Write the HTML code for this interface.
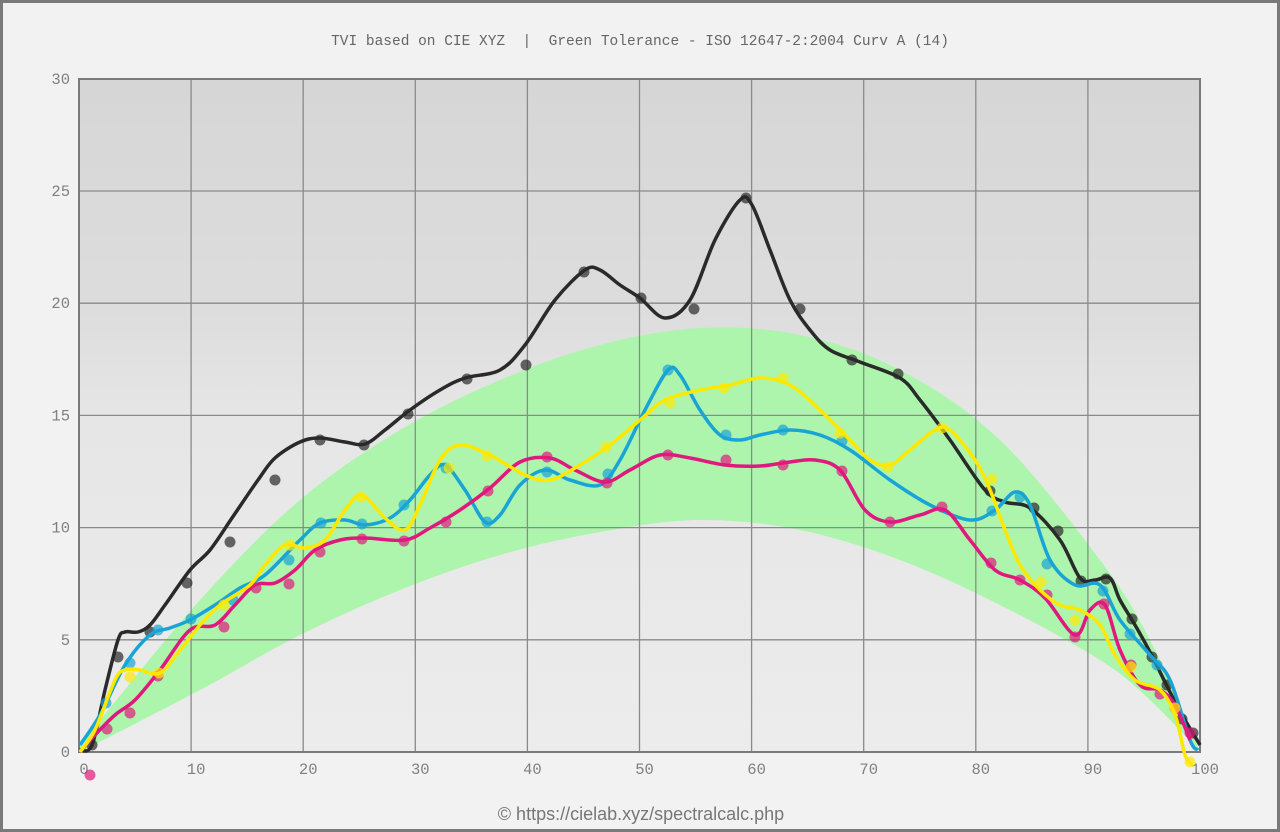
<!DOCTYPE html>
<html><head><meta charset="utf-8"><style>
html,body{margin:0;padding:0;background:#f2f2f2}
#w{position:relative;width:1274px;height:826px;border:3px solid #7a7a7a;background:#f2f2f2;overflow:hidden}
svg{position:absolute;left:-3px;top:-3px}
</style></head><body><div id="w">
<svg id="s" width="1280" height="832" xmlns="http://www.w3.org/2000/svg">
<defs><linearGradient id="bg" x1="0" y1="0" x2="0" y2="1">
<stop offset="0" stop-color="#d6d6d6"/><stop offset="0.35" stop-color="#dddddd"/><stop offset="0.5" stop-color="#e6e6e6"/><stop offset="1" stop-color="#ececec"/></linearGradient></defs>
<rect x="79" y="79" width="1121" height="673" fill="url(#bg)"/>
<path id="band" fill="#adf5ad"/>
<g id="grid" stroke="#8a8a8a" stroke-width="1.3"></g>
<rect x="79" y="79" width="1121" height="673" fill="none" stroke="#7a7a7a" stroke-width="2"/>
<g id="lbl" font-family="Liberation Mono, monospace" font-size="15.5" fill="#808080"></g>
<g id="series"></g>
<text x="640" y="45" text-anchor="middle" xml:space="preserve" style="white-space:pre" font-family="Liberation Mono, monospace" font-size="14.5" fill="#666">TVI based on CIE XYZ  |  Green Tolerance - ISO 12647-2:2004 Curv A (14)</text>
<text x="641" y="820" text-anchor="middle" font-family="Liberation Sans, sans-serif" font-size="18" fill="#777">© https://cielab.xyz/spectralcalc.php</text>
</svg></div>
<script>
const NS="http://www.w3.org/2000/svg";
function el(t,a,p){const e=document.createElementNS(NS,t);for(const k in a)e.setAttribute(k,a[k]);p.appendChild(e);return e}
function cr(p){let d="M"+p[0][0]+","+p[0][1];for(let i=0;i<p.length-1;i++){const a=p[Math.max(0,i-1)],b=p[i],c=p[i+1],e=p[Math.min(p.length-1,i+2)];
d+=" C"+(b[0]+(c[0]-a[0])/6).toFixed(1)+","+(b[1]+(c[1]-a[1])/6).toFixed(1)+" "+(c[0]-(e[0]-b[0])/6).toFixed(1)+","+(c[1]-(e[1]-b[1])/6).toFixed(1)+" "+c[0]+","+c[1];}return d}
const g=document.getElementById("grid"),l=document.getElementById("lbl");
for(let i=1;i<10;i++){const x=79+i*112.1;el("line",{x1:x,y1:79,x2:x,y2:752},g)}
for(let i=1;i<6;i++){const y=752-i*112.2;el("line",{x1:79,y1:y,x2:1200,y2:y},g)}
for(let i=0;i<=6;i++){const t=el("text",{x:70,y:757-i*112.2,"text-anchor":"end"},l);t.textContent=i*5}
for(let i=0;i<=10;i++){const t=el("text",{x:84+i*112.1,y:774,"text-anchor":"middle"},l);t.textContent=i*10}
const up=[[80,745],[200,600],[300,500],[400,430],[500,380],[600,345],[700,328],[800,335],[900,370],[1000,440],[1100,560],[1150,640],[1200,752]];
const lo=[[80,752],[200,690],[300,635],[400,590],[500,555],[600,532],[700,520],[800,530],[900,560],[1000,605],[1100,660],[1150,700],[1200,752]];
document.getElementById("band").setAttribute("d",cr(up)+" L"+cr(lo.slice().reverse()).slice(1)+"Z");
const S=document.getElementById("series");
function ser(col,line,dots){el("path",{d:cr(line),fill:"none",stroke:col,"stroke-width":3.5,"stroke-linejoin":"round"},S);
for(const d of dots)el("circle",{cx:d[0],cy:d[1],r:5.5,fill:col,opacity:0.7},S)}
ser("#2a2a2a",[[80,750],[92,745],[105,690],[118,640],[125,632],[138,632],[150,625],[165,605],[190,570],[210,550],[232,518],[258,480],[275,458],[300,442],[320,438],[345,442],[365,444],[385,430],[410,410],[440,390],[465,378],[500,370],[525,345],[555,300],[585,270],[600,270],[620,285],[640,298],[665,318],[690,300],[715,240],[740,200],[752,205],[770,250],[790,300],[810,330],[830,350],[860,362],[900,378],[920,400],[950,440],[985,490],[1005,502],[1030,508],[1060,540],[1080,578],[1095,580],[1110,578],[1120,600],[1135,625],[1150,652],[1170,692],[1185,720],[1200,745]],
[[92,745],[118,657],[150,632],[187,583],[230,542],[275,480],[320,440],[364,445],[408,414],[467,379],[526,365],[584,272],[641,298],[694,309],[746,198],[800,309],[852,360],[898,374],[990,491],[1034,508],[1058,531],[1081,581],[1106,579],[1132,619],[1152,657],[1167,685],[1182,719],[1193,733]]);
ser("#1aa4d6",[[80,745],[100,715],[125,665],[150,635],[170,628],[190,620],[215,605],[240,588],[265,575],[300,540],[320,523],[345,520],[365,525],[390,518],[410,500],[430,475],[445,465],[465,490],[485,522],[500,515],[520,485],[545,470],[570,480],[600,485],[620,460],[645,410],[668,370],[680,375],[700,410],[720,435],[740,440],[760,435],[790,430],[820,435],[850,450],[890,480],[930,505],[970,520],[995,510],[1015,492],[1030,505],[1050,560],[1075,585],[1100,585],[1120,620],[1150,655],[1170,680],[1190,740],[1198,750]],
[[106,703],[130,663],[158,630],[191,619],[233,600],[289,560],[321,523],[362,524],[404,505],[446,468],[487,522],[547,472],[608,474],[668,370],[726,435],[783,430],[842,441],[992,511],[1020,497],[1047,564],[1103,591],[1130,634],[1157,665]]);
ser("#e0197f",[[80,752],[95,735],[115,715],[135,700],[160,670],[190,630],[215,625],[235,605],[255,585],[275,583],[295,570],[315,550],[340,540],[365,538],[405,540],[430,528],[460,510],[490,488],[520,462],[550,458],[575,470],[605,482],[630,470],[660,455],[690,458],[725,465],[760,466],[790,462],[815,460],[840,470],[865,510],[890,522],[920,515],[945,510],[970,540],[995,570],[1020,580],[1045,598],[1075,635],[1090,610],[1105,605],[1120,650],[1140,685],[1160,690],[1175,705],[1190,740]],
[[107,729],[130,713],[158,676],[224,627],[256,588],[289,584],[320,552],[362,539],[404,541],[446,522],[488,491],[547,457],[607,483],[668,455],[726,460],[783,465],[842,471],[890,522],[942,507],[991,563],[1020,580],[1047,595],[1075,637],[1104,604],[1131,665],[1160,694],[1175,708],[1190,733],[90,775]]);
ser("#ffe800",[[80,752],[95,730],[115,680],[125,670],[140,670],[160,673],[180,650],[200,625],[220,605],[250,585],[265,565],[285,545],[305,548],[325,540],[345,510],[362,495],[385,518],[405,530],[420,505],[440,460],[460,445],[490,455],[525,475],[550,480],[580,465],[610,445],[640,420],[665,400],[700,390],[730,385],[760,378],[790,385],[820,410],[850,440],[870,460],[890,465],[910,450],[935,430],[950,430],[975,460],[990,490],[1005,530],[1020,565],[1040,590],[1060,605],[1080,610],[1100,625],[1115,655],[1135,680],[1160,690],[1175,715],[1185,755],[1192,765]],
[[130,677],[159,673],[224,605],[290,545],[361,497],[449,468],[487,456],[606,447],[670,403],[724,388],[783,378],[840,433],[888,467],[942,428],[992,479],[1041,582],[1075,620],[1131,667],[1175,708],[1190,762]]);
</script></body></html>
